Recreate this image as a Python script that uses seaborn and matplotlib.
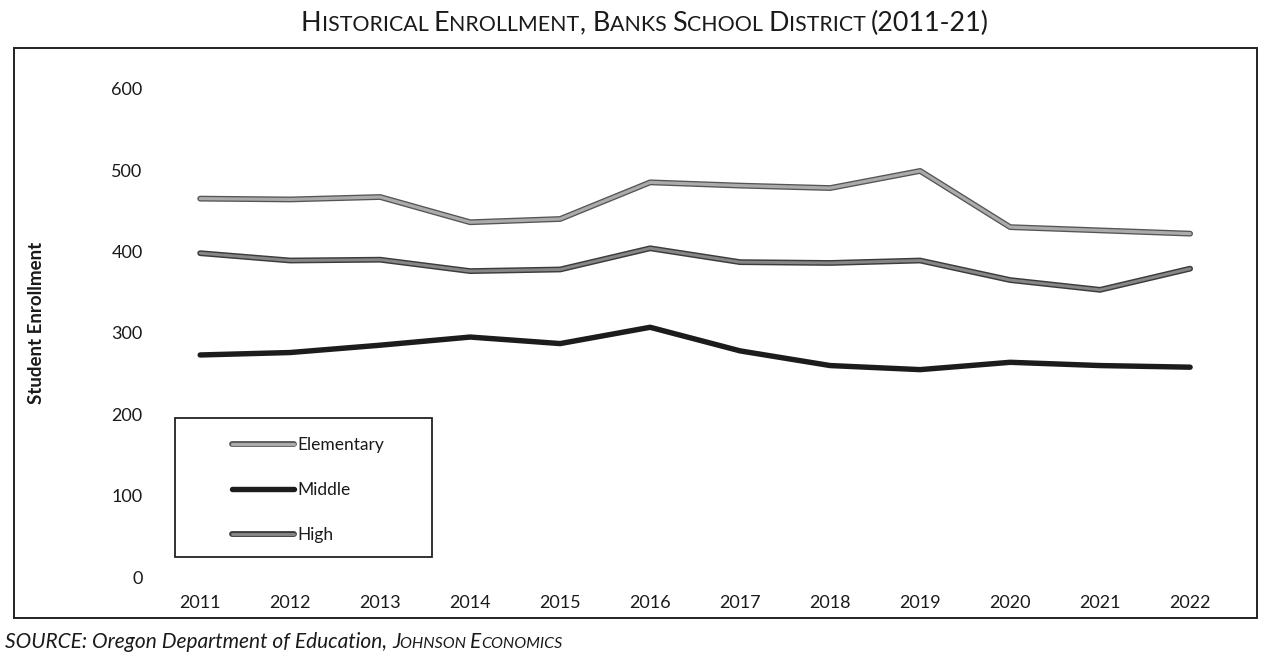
import matplotlib
matplotlib.use("Agg")
import matplotlib.pyplot as plt
import seaborn as sns
import pandas as pd
from matplotlib import patheffects as pe
from matplotlib.offsetbox import TextArea, HPacker, AnnotationBbox
from matplotlib.patches import Rectangle
from matplotlib.lines import Line2D

# ---------------- data ----------------
years = [2011, 2012, 2013, 2014, 2015, 2016, 2017, 2018, 2019, 2020, 2021, 2022]
elementary = [465, 464, 467, 436, 440, 485, 481, 478, 499, 430, 426, 422]
middle = [273, 276, 285, 295, 287, 307, 278, 260, 255, 264, 260, 258]
high = [398, 389, 390, 376, 378, 404, 387, 386, 389, 365, 353, 379]
series_names = ["Elementary", "Middle", "High"]
y_ticks = [0, 100, 200, 300, 400, 500, 600]

title_text = "Historical Enrollment, Banks School District (2011-21)"
ylabel_text = "Student Enrollment"
source_main = "SOURCE: Oregon Department of Education, "
source_tail = "Johnson Economics"

df = pd.DataFrame({
    "Year": years * 3,
    "Enrollment": elementary + middle + high,
    "School": [series_names[0]] * len(years) + [series_names[1]] * len(years)
              + [series_names[2]] * len(years),
})

# ---------------- style ----------------
sns.set_theme(style="white")
plt.rcParams["font.family"] = ["Lato", "DejaVu Sans"]
TXT = "#1a1a1a"

palette = {"Elementary": "#a9aca9", "Middle": "#1c1c1c", "High": "#878787"}
effects = {
    "Elementary": [pe.Stroke(linewidth=4.2, foreground="#555555"), pe.Normal()],
    "Middle": [pe.Normal()],
    "High": [pe.Stroke(linewidth=4.2, foreground="#3c3c3c"), pe.Normal()],
}
widths = {"Elementary": 2.3, "Middle": 3.9, "High": 2.1}

fig = plt.figure(figsize=(12.72, 6.62), dpi=100)
fig.patch.set_facecolor("white")
ax = fig.add_axes([0.122, 0.128, 0.849, 0.738])

sns.lineplot(data=df, x="Year", y="Enrollment", hue="School",
             hue_order=series_names, palette=palette, ax=ax,
             legend=False, sort=False)

for line, name in zip(ax.lines, series_names):
    line.set_linewidth(widths[name])
    line.set_path_effects(effects[name])
    line.set_solid_capstyle("round")
    line.set_solid_joinstyle("round")

ax.set_xlim(years[0] - 0.5, years[-1] + 0.5)
ax.set_ylim(0, 600)
ax.set_xticks(years)
ax.set_xticklabels([str(y) for y in years])
ax.set_yticks(y_ticks)
ax.set_yticklabels([str(v) for v in y_ticks])
ax.tick_params(axis="y", length=0, pad=9, labelsize=13, labelcolor=TXT)
ax.tick_params(axis="x", length=0, pad=13, labelsize=13, labelcolor=TXT)
for s in ax.spines.values():
    s.set_visible(False)
ax.grid(False)
ax.set_facecolor("none")
ax.set_xlabel("")
ax.set_ylabel(ylabel_text, fontsize=13.5, fontweight="bold", color=TXT)
ax.yaxis.set_label_coords(-0.102, 0.52)

# ---------------- legend ----------------
handles = []
for name in series_names:
    h = Line2D([0], [0], color=palette[name], linewidth=widths[name],
               solid_capstyle="round")
    h.set_path_effects(effects[name])
    handles.append(h)
leg = ax.legend(handles, series_names, loc="upper left",
                bbox_to_anchor=(0.071, 0.287), frameon=False,
                fontsize=12.5, handlelength=3.6, handletextpad=0.15,
                labelspacing=1.68, borderpad=0, borderaxespad=0)
for t in leg.get_texts():
    t.set_color(TXT)
ax.add_patch(Rectangle((0.0185, 0.041), 0.2375, 0.285, transform=ax.transAxes,
                       fill=False, edgecolor="#222222", linewidth=1.3,
                       clip_on=False, zorder=5))

# ---------------- outer frame ----------------
fig.patches.append(Rectangle((0.011, 1 - 618 / 662), 0.977, (618 - 48) / 662,
                             transform=fig.transFigure, fill=False,
                             edgecolor="#222222", linewidth=1.4))


# ---------------- small-caps helper ----------------
def small_caps(text, big, small, **props):
    parts = []
    run = ""
    run_lower = None
    for ch in text:
        low = ch.islower()
        if run_lower is None or low == run_lower or ch == " ":
            if run_lower is None and ch != " ":
                run_lower = low
            run += ch
        else:
            parts.append((run, run_lower))
            run = ch
            run_lower = low
    if run:
        parts.append((run, run_lower))
    boxes = []
    for chunk, low in parts:
        size = small if low else big
        boxes.append(TextArea(chunk.upper(),
                              textprops=dict(fontsize=size, color=TXT, **props)))
    return HPacker(children=boxes, align="baseline", pad=0, sep=0)


title_box = small_caps(title_text, 19.4, 15.4)
ab = AnnotationBbox(title_box, (0.507, 0.965), xycoords="figure fraction",
                    frameon=False, box_alignment=(0.5, 0.5),
                    annotation_clip=False)
ax.add_artist(ab)

src_children = [TextArea(source_main, textprops=dict(fontsize=15, style="italic",
                                                     color=TXT))]
src_children.append(small_caps(source_tail, 15, 11.5, style="italic"))
src_box = HPacker(children=src_children, align="baseline", pad=0, sep=0)
ab2 = AnnotationBbox(src_box, (0.004, 0.03), xycoords="figure fraction",
                     frameon=False, box_alignment=(0.0, 0.5),
                     annotation_clip=False)
ax.add_artist(ab2)

fig.savefig("out.png", dpi=100, facecolor="white")
